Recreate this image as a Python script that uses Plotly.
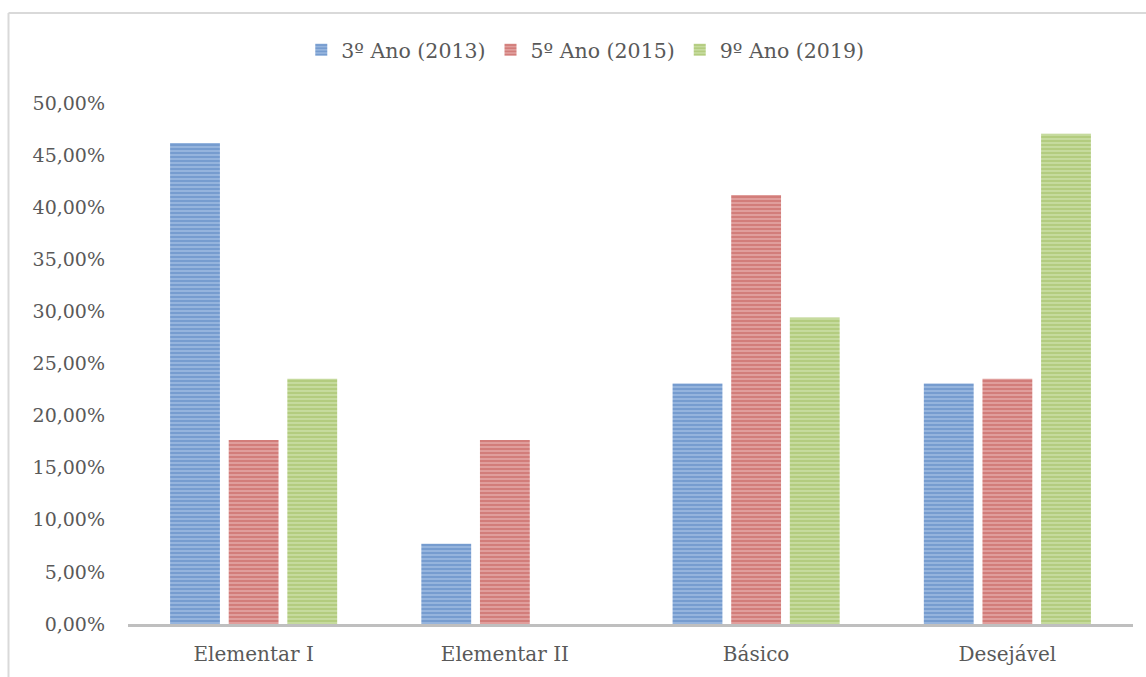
import plotly.graph_objects as go

categorias = ["Elementar I", "Elementar II", "Básico", "Desejável"]
ano3_2013 = [46.15, 7.69, 23.08, 23.08]
ano5_2015 = [17.65, 17.65, 41.18, 23.53]
ano9_2019 = [23.53, 0.0, 29.41, 47.06]
y_ticks = [0, 5, 10, 15, 20, 25, 30, 35, 40, 45, 50]

series = [
    ("3º Ano (2013)", ano3_2013, "#4376B8", "#A9C3E6"),
    ("5º Ano (2015)", ano5_2015, "#BC4744", "#E8B3B1"),
    ("9º Ano (2019)", ano9_2019, "#93B64C", "#D2E3B2"),
]

W, H = 1146, 677
L, R, T, B = 128, 13, 103, 53
pw, ph = W - L - R, H - T - B

fig = go.Figure()
for nome, vals, cor, fundo in series:
    fig.add_trace(go.Bar(
        name=nome, x=categorias, y=vals,
        marker=dict(
            color=fundo,
            line=dict(width=0),
            pattern=dict(shape="-", fgcolor=cor, bgcolor=fundo,
                         size=4, solidity=0.7, fillmode="overlay"),
        ),
    ))

tick_text = [f"{v:.2f}%".replace(".", ",") for v in y_ticks]

font_fam = "DejaVu Serif"
fig.update_layout(
    width=W, height=H,
    margin=dict(l=L, r=R, t=T, b=B),
    paper_bgcolor="white", plot_bgcolor="white",
    barmode="group", bargap=0.3, bargroupgap=0.15,
    font=dict(family=font_fam, size=19, color="#595959"),
    legend=dict(orientation="h", x=0.455, xanchor="center", y=1.0 + 53 / ph,
                yanchor="middle", font=dict(size=20.5, color="#595959"),
                itemwidth=30, tracegroupgap=0),
    xaxis=dict(showgrid=False, showline=True, linecolor="#BFBFBF", linewidth=3,
               ticks="", tickfont=dict(size=20), ticklabelstandoff=10,
               fixedrange=True),
    yaxis=dict(range=[0, 50], tickvals=y_ticks, ticktext=tick_text,
               showgrid=False, zeroline=False, showline=False, ticks="",
               ticklabelstandoff=22, tickfont=dict(size=19)),
    showlegend=True,
)

# chart frame (left and top edges)
bx = (8.5 - L) / pw
by = (H - B - 13) / ph
fig.add_shape(type="line", xref="paper", yref="paper", x0=bx, x1=bx, y0=-0.2, y1=by,
              line=dict(color="#D9D9D9", width=2))
fig.add_shape(type="line", xref="paper", yref="paper", x0=bx, x1=1.1, y0=by, y1=by,
              line=dict(color="#D9D9D9", width=2))

fig.write_html("out.html")
